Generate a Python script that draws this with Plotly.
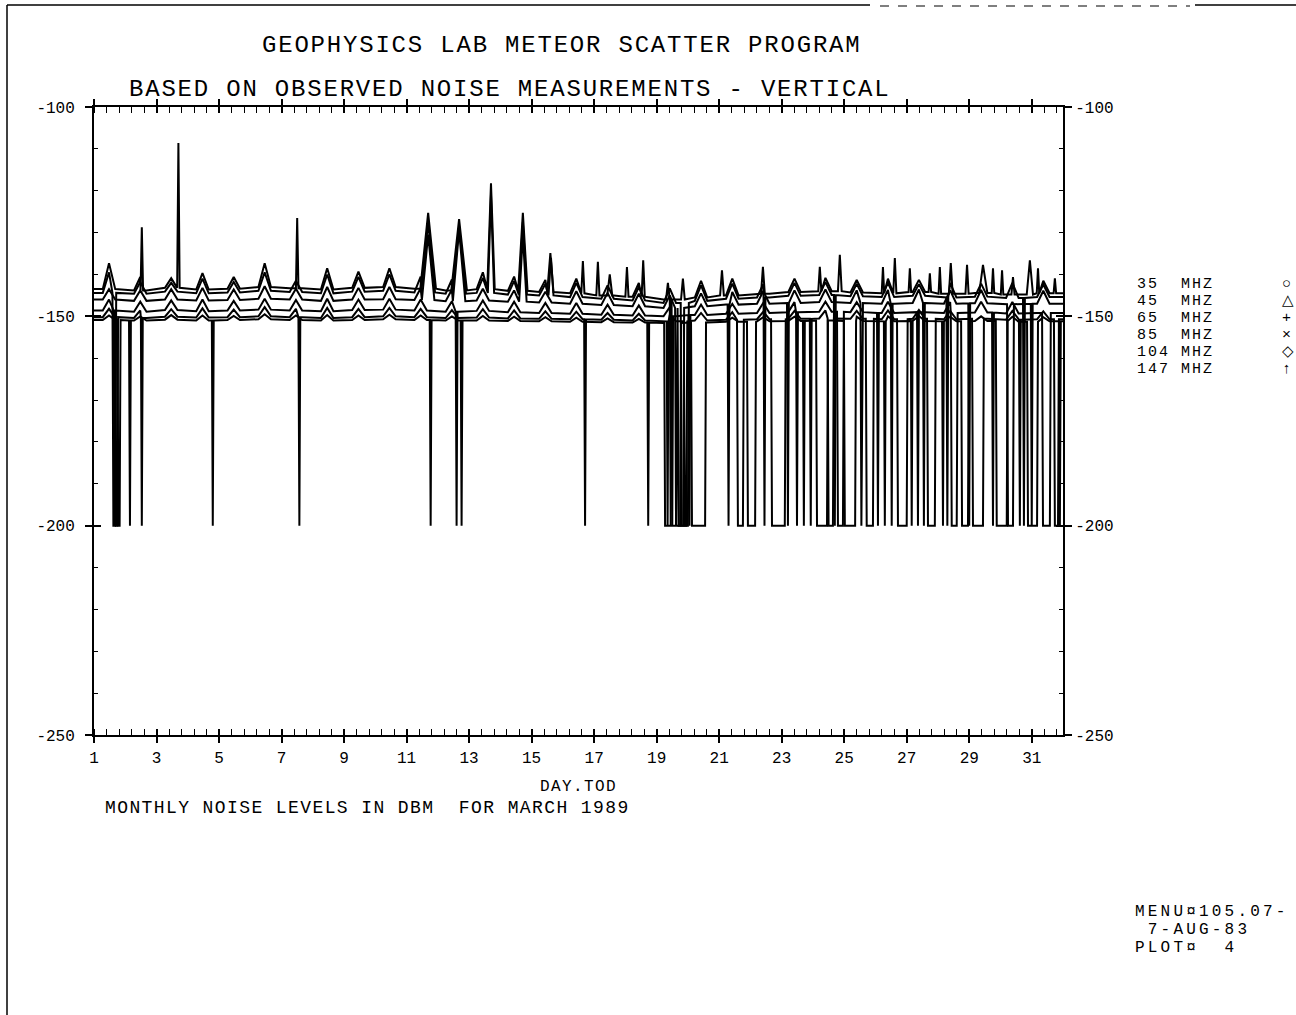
import plotly.graph_objects as go

# ---------------- data ----------------
DAYS = list(range(1, 32))
# time of day (fraction) of the daily galactic-noise maximum
CREST_TOD = [0.48, 0.48, 0.47, 0.47, 0.47, 0.46, 0.46, 0.46, 0.46, 0.45, 0.45,
             0.45, 0.44, 0.44, 0.44, 0.43, 0.43, 0.43, 0.42, 0.42, 0.42, 0.41,
             0.41, 0.40, 0.40, 0.40, 0.39, 0.39, 0.38, 0.38, 0.37]

SERIES_NAMES = ["35  MHZ", "45  MHZ", "65  MHZ", "85  MHZ", "104 MHZ", "147 MHZ"]
SERIES_SYMBOLS = ["○", "△", "+", "×", "◇", "↑"]

S35_TROUGH = [-143.5, -143.8, -143.2, -143.6, -143.4, -143.0, -143.3, -143.6, -143.2, -143.0, -143.4,
              -143.8, -143.5, -143.9, -144.2, -144.5, -145.0, -145.3, -146.0, -145.5, -145.0, -144.6,
              -144.2, -144.0, -144.3, -144.5, -144.2, -144.6, -144.4, -144.8, -144.5]
S35_CREST = [-137.3, -140.6, -140.9, -139.7, -140.6, -137.3, -140.2, -138.5, -139.3, -138.5, -139.0,
             -140.0, -139.5, -140.5, -141.3, -141.0, -141.8, -142.0, -142.5, -141.5, -141.0, -141.3,
             -141.0, -140.8, -141.3, -141.0, -141.3, -141.0, -141.2, -141.0, -141.5]
S45_TROUGH = [-144.4, -144.6, -144.1, -144.5, -144.3, -143.9, -144.2, -144.5, -144.1, -143.9, -144.3,
              -144.6, -144.4, -144.8, -145.0, -145.4, -145.8, -146.2, -146.8, -146.3, -145.8, -145.5,
              -145.1, -144.9, -145.2, -145.4, -145.1, -145.5, -145.3, -145.6, -145.4]
S45_CREST = [-139.5, -141.8, -142.0, -141.0, -141.8, -139.5, -141.5, -140.0, -140.6, -140.0, -140.5,
             -141.2, -140.8, -141.6, -142.3, -142.0, -142.6, -143.0, -143.3, -142.6, -142.2, -142.3,
             -142.0, -141.8, -142.2, -142.0, -142.3, -142.0, -142.2, -142.0, -142.4]
S65_TROUGH = [-146.0, -146.3, -146.0, -146.2, -146.1, -145.8, -146.0, -146.3, -146.0, -145.9, -146.1,
              -146.4, -146.2, -146.5, -146.7, -147.0, -147.3, -147.6, -148.0, -147.6, -147.2, -147.0,
              -146.8, -146.6, -146.8, -147.0, -146.8, -147.0, -146.9, -147.1, -147.0]
S65_CREST = [-143.5, -143.8, -143.5, -143.2, -143.6, -142.8, -143.4, -143.0, -143.2, -143.0, -143.3,
             -143.6, -143.4, -143.8, -144.1, -144.0, -144.4, -144.6, -145.0, -144.5, -144.2, -144.0,
             -143.8, -143.6, -143.8, -143.7, -143.6, -143.8, -143.7, -143.8, -143.9]
S85_TROUGH = [-148.6, -148.9, -148.5, -148.8, -148.6, -148.4, -148.6, -148.8, -148.5, -148.4, -148.6,
              -148.9, -148.7, -149.0, -149.2, -149.4, -149.6, -149.8, -150.0, -149.7, -149.4, -149.2,
              -149.0, -148.9, -149.0, -149.2, -149.0, -149.2, -149.1, -149.3, -149.2]
S85_CREST = [-146.0, -146.5, -146.2, -146.0, -146.3, -145.8, -146.1, -145.8, -146.0, -145.8, -146.0,
             -146.4, -146.2, -146.5, -146.8, -146.8, -147.2, -147.4, -147.8, -147.2, -147.0, -146.8,
             -146.6, -146.5, -146.6, -146.5, -146.4, -146.6, -146.5, -146.6, -146.7]
S104_TROUGH = [-150.2, -150.4, -150.1, -150.3, -150.2, -150.0, -150.2, -150.4, -150.2, -150.0, -150.2,
               -150.4, -150.3, -150.5, -150.6, -150.7, -150.8, -151.0, -151.2, -151.0, -150.8, -150.7,
               -150.6, -150.5, -150.6, -150.7, -150.6, -150.7, -150.6, -150.8, -150.7]
S104_CREST = [-148.2, -148.6, -148.3, -148.1, -148.4, -147.8, -148.2, -148.0, -148.2, -148.0, -148.2,
              -148.5, -148.3, -148.6, -148.8, -148.9, -149.2, -149.4, -149.6, -149.2, -149.0, -148.9,
              -148.7, -148.6, -148.7, -148.6, -148.5, -148.7, -148.6, -148.7, -148.8]
S147_TROUGH = [-150.9, -151.0, -150.8, -151.0, -150.9, -150.7, -150.9, -151.0, -150.9, -150.7, -150.9,
               -151.0, -151.0, -151.1, -151.2, -151.3, -151.4, -151.5, -151.6, -151.5, -151.3, -151.2,
               -151.1, -151.0, -151.1, -151.2, -151.1, -151.2, -151.1, -151.3, -151.2]
S147_CREST = [-149.8, -150.0, -149.7, -149.8, -149.9, -149.5, -149.8, -149.7, -149.8, -149.6, -149.8,
              -150.0, -149.9, -150.1, -150.2, -150.3, -150.5, -150.6, -150.8, -150.5, -150.3, -150.2,
              -150.1, -150.0, -150.1, -150.0, -149.9, -150.1, -150.0, -150.1, -150.2]

# upward bursts: (day.tod, dBm, half-duration in days)
S35_SPIKES = [(2.53, -128.7, 0.04), (3.70, -108.6, 0.04), (7.50, -126.5, 0.04),
              (11.69, -125.3, 0.25), (12.68, -126.8, 0.25), (13.70, -118.2, 0.12),
              (14.72, -125.3, 0.15), (15.60, -134.9, 0.10), (16.64, -136.8, 0.05),
              (17.12, -137.0, 0.05), (17.50, -140.0, 0.08), (18.05, -138.2, 0.05),
              (18.57, -136.6, 0.05), (19.36, -142.0, 0.06), (19.84, -141.0, 0.06),
              (21.09, -139.0, 0.06), (22.40, -138.2, 0.06), (24.22, -138.2, 0.05),
              (24.86, -135.3, 0.06), (26.24, -138.2, 0.04), (26.62, -136.1, 0.05),
              (27.10, -138.5, 0.04), (27.74, -139.7, 0.04), (28.06, -138.2, 0.04),
              (28.41, -137.3, 0.06), (28.93, -137.7, 0.05), (29.44, -137.7, 0.12),
              (29.76, -138.5, 0.04), (30.05, -139.0, 0.04), (30.40, -140.6, 0.05),
              (30.94, -136.6, 0.10), (31.20, -138.5, 0.04), (31.74, -140.9, 0.04)]
S45_SPIKES = [(11.69, -127.5, 0.22), (12.68, -128.5, 0.22), (13.70, -121.0, 0.10),
              (14.72, -127.5, 0.13), (15.62, -136.0, 0.08)]
S65_SPIKES = [(11.69, -130.5, 0.20), (12.68, -129.5, 0.20), (14.72, -130.5, 0.12)]
S85_SPIKES = []
S104_SPIKES = []
S147_SPIKES = []

NO_SIGNAL_DBM = -200.0
# periods reported as no signal (-200 dBm): (start day.tod, end day.tod)
S35_GAPS = [(19.45, 19.45)]
S45_GAPS = [(1.62, 1.68), (19.80, 20.00), (22.45, 22.45), (24.70, 24.70), (28.30, 28.30),
            (30.75, 30.75)]
S65_GAPS = [(19.62, 19.62), (19.70, 19.85), (21.30, 21.30), (23.20, 23.20), (25.55, 25.55),
            (26.52, 26.52), (27.55, 27.55), (29.00, 29.00), (30.24, 30.40), (31.00, 31.00)]
S85_GAPS = [(1.66, 1.66), (12.60, 12.60), (19.50, 19.50), (20.05, 20.05), (23.49, 23.49),
            (24.80, 24.96), (26.08, 26.08), (27.36, 27.36), (28.44, 28.60), (29.76, 29.76),
            (31.36, 31.58)]
S104_GAPS = [(1.70, 1.74), (2.53, 2.53), (7.57, 7.57), (16.71, 16.71), (19.35, 19.35),
             (19.90, 19.95), (21.60, 21.76), (22.69, 23.10), (23.93, 23.93), (24.50, 24.64),
             (25.72, 25.92), (26.72, 27.00), (27.68, 27.90), (29.12, 29.44), (30.62, 30.62),
             (31.74, 31.84)]
S147_GAPS = [(1.78, 1.82), (2.15, 2.15), (4.80, 4.80), (11.77, 11.77), (12.76, 12.76),
             (18.73, 18.73), (19.27, 19.75), (20.13, 20.55), (21.92, 22.15), (23.71, 23.71),
             (24.13, 24.45), (25.02, 25.35), (26.30, 26.30), (27.16, 27.16), (28.16, 28.16),
             (28.77, 28.96), (29.88, 30.20), (30.88, 31.17), (31.90, 31.90)]

SERIES = [
    (S35_TROUGH, S35_CREST, S35_SPIKES, S35_GAPS),
    (S45_TROUGH, S45_CREST, S45_SPIKES, S45_GAPS),
    (S65_TROUGH, S65_CREST, S65_SPIKES, S65_GAPS),
    (S85_TROUGH, S85_CREST, S85_SPIKES, S85_GAPS),
    (S104_TROUGH, S104_CREST, S104_SPIKES, S104_GAPS),
    (S147_TROUGH, S147_CREST, S147_SPIKES, S147_GAPS),
]

X_TICKS = list(range(1, 32, 2))
Y_TICKS = [-250, -200, -150, -100]
Y_TICK_TEXT = ["-250", "-200", "-150", "-100"]

# ---------------- build the polylines ----------------
BUMP_HALF = 0.2
EDGE = 0.03


def build(trough, crest, spikes, gaps):
    pts = [(1.0, trough[0])]
    for i, d in enumerate(DAYS):
        c = d + CREST_TOD[i]
        pts += [(c - BUMP_HALF, trough[i]), (c, crest[i]), (c + BUMP_HALF, trough[i])]
    pts.append((32.0, trough[-1]))
    for t, v, hw in spikes:
        lvl = trough[int(t) - 1]
        pts = [p for p in pts if not (t - hw <= p[0] <= t + hw)]
        pts += [(t - hw, lvl), (t, v), (t + hw, lvl)]
    for s, e in gaps:
        lvl = trough[min(int(s) - 1, 30)]
        pts = [p for p in pts if not (s - EDGE <= p[0] <= e + EDGE)]
        pts += [(s - EDGE, lvl), (s, NO_SIGNAL_DBM), (e, NO_SIGNAL_DBM), (e + EDGE, lvl)]
    pts = sorted([p for p in pts if 1.0 <= p[0] <= 32.0])
    return [p[0] for p in pts], [p[1] for p in pts]


fig = go.Figure()
for name, (tr, cr, sp, gp) in zip(SERIES_NAMES, SERIES):
    xs, ys = build(tr, cr, sp, gp)
    fig.add_trace(go.Scatter(x=xs, y=ys, mode="lines", name=name,
                             line=dict(color="black", width=2), hoverinfo="skip"))

# empty traces so that the overlay axes (tick crosses, right labels) are drawn
fig.add_trace(go.Scatter(x=[], y=[], xaxis="x2", yaxis="y", showlegend=False))
fig.add_trace(go.Scatter(x=[], y=[], xaxis="x", yaxis="y2", showlegend=False))
fig.add_trace(go.Scatter(x=[], y=[], xaxis="x", yaxis="y3", showlegend=False))

FONT = "Liberation Mono"
x_minor = [round(1 + 0.4 * k, 2) for k in range(0, 78) if (k % 5) != 0]
y_minor = [v for v in range(-250, -99, 10) if v % 50 != 0]

axis_common = dict(showgrid=False, zeroline=False, linecolor="black", linewidth=2,
                   tickcolor="black", tickwidth=1.6)

fig.update_layout(
    width=1296, height=1015,
    paper_bgcolor="white", plot_bgcolor="white",
    margin=dict(l=94, r=233, t=107, b=280),
    showlegend=False,
    font=dict(family=FONT, color="black", size=16),
    xaxis=dict(range=[1, 32], tickmode="array", tickvals=X_TICKS,
               ticktext=[str(v) for v in X_TICKS], ticks="outside", ticklen=6,
               showline=True, mirror="allticks", ticklabelstandoff=1,
               tickfont=dict(family=FONT, size=16),
               minor=dict(tickmode="array", tickvals=x_minor, ticks="inside", ticklen=4,
                          tickcolor="black", tickwidth=1.2, showgrid=False),
               **axis_common),
    xaxis2=dict(range=[1, 32], overlaying="x", side="bottom", anchor="y",
                tickmode="array", tickvals=X_TICKS, ticks="inside", ticklen=6,
                showticklabels=False, showline=True, mirror="allticks", **axis_common),
    yaxis=dict(range=[-250, -100], tickmode="array", tickvals=Y_TICKS, ticktext=Y_TICK_TEXT,
               ticks="outside", ticklen=7, showline=True, ticklabelstandoff=7,
               tickfont=dict(family=FONT, size=16),
               minor=dict(tickmode="array", tickvals=y_minor, ticks="inside", ticklen=4,
                          tickcolor="black", tickwidth=1.2, showgrid=False),
               **axis_common),
    yaxis2=dict(range=[-250, -100], overlaying="y", side="right", anchor="x",
                tickmode="array", tickvals=Y_TICKS, ticktext=Y_TICK_TEXT,
                ticks="outside", ticklen=7, showline=True, ticklabelstandoff=0,
                tickfont=dict(family=FONT, size=16),
                minor=dict(tickmode="array", tickvals=y_minor, ticks="inside", ticklen=4,
                           tickcolor="black", tickwidth=1.2, showgrid=False),
                **axis_common),
    yaxis3=dict(range=[-250, -100], overlaying="y", side="left", anchor="x",
                tickmode="array", tickvals=Y_TICKS, ticks="inside", ticklen=7,
                showticklabels=False, showline=True, mirror="allticks", **axis_common),
)

# ---------------- text ----------------
PX_L, PX_W, PX_B, PX_H = 94, 969, 735, 628


def px(xp):
    return (xp - PX_L) / PX_W


def py(yp):
    return (PX_B - yp) / PX_H


def text(s, xp, yp, size, anchor="left", spacing=0.0):
    if spacing:
        s = '<span style="letter-spacing:%.1fpx">%s</span>' % (spacing, s)
    fig.add_annotation(text=s, x=px(xp), y=py(yp), xref="paper", yref="paper",
                       xanchor=anchor, yanchor="middle", showarrow=False,
                       font=dict(family=FONT, size=size, color="black"))


text("GEOPHYSICS LAB METEOR SCATTER PROGRAM", 562, 46, 24, "center", 1.8)
text("BASED ON OBSERVED NOISE MEASUREMENTS - VERTICAL", 510, 90, 24, "center", 1.8)
text("DAY.TOD", 578, 787, 16, "center", 1.4)
text("MONTHLY NOISE LEVELS IN DBM  FOR MARCH 1989", 103, 808, 18, "left", 1.4)

LEGEND_Y = [284, 301, 318, 335, 352, 369]
for name, sym, yy in zip(SERIES_NAMES, SERIES_SYMBOLS, LEGEND_Y):
    text(name, 1135, yy, 15, "left", 2.0)
    text(sym, 1280, yy, 15)

text("MENU¤105.07-", 1133, 912, 16, "left", 3.2)
text(" 7-AUG-83", 1133, 930, 16, "left", 3.2)
text("PLOT¤  4", 1133, 948, 16, "left", 3.2)

# page frame of the scanned plot
fig.add_shape(type="line", xref="paper", yref="paper", x0=px(7), x1=px(7), y0=py(5), y1=py(1015),
              line=dict(color="black", width=1.5))
fig.add_shape(type="line", xref="paper", yref="paper", x0=px(7), x1=px(870), y0=py(5), y1=py(5),
              line=dict(color="black", width=1.5))
fig.add_shape(type="line", xref="paper", yref="paper", x0=px(880), x1=px(1190), y0=py(6), y1=py(6),
              line=dict(color="black", width=1.2, dash="dash"))
fig.add_shape(type="line", xref="paper", yref="paper", x0=px(1195), x1=px(1296), y0=py(5), y1=py(5),
              line=dict(color="black", width=1.5))

fig.write_html("out.html", config={"displayModeBar": False},
               post_script="document.body.style.margin='0px';")
